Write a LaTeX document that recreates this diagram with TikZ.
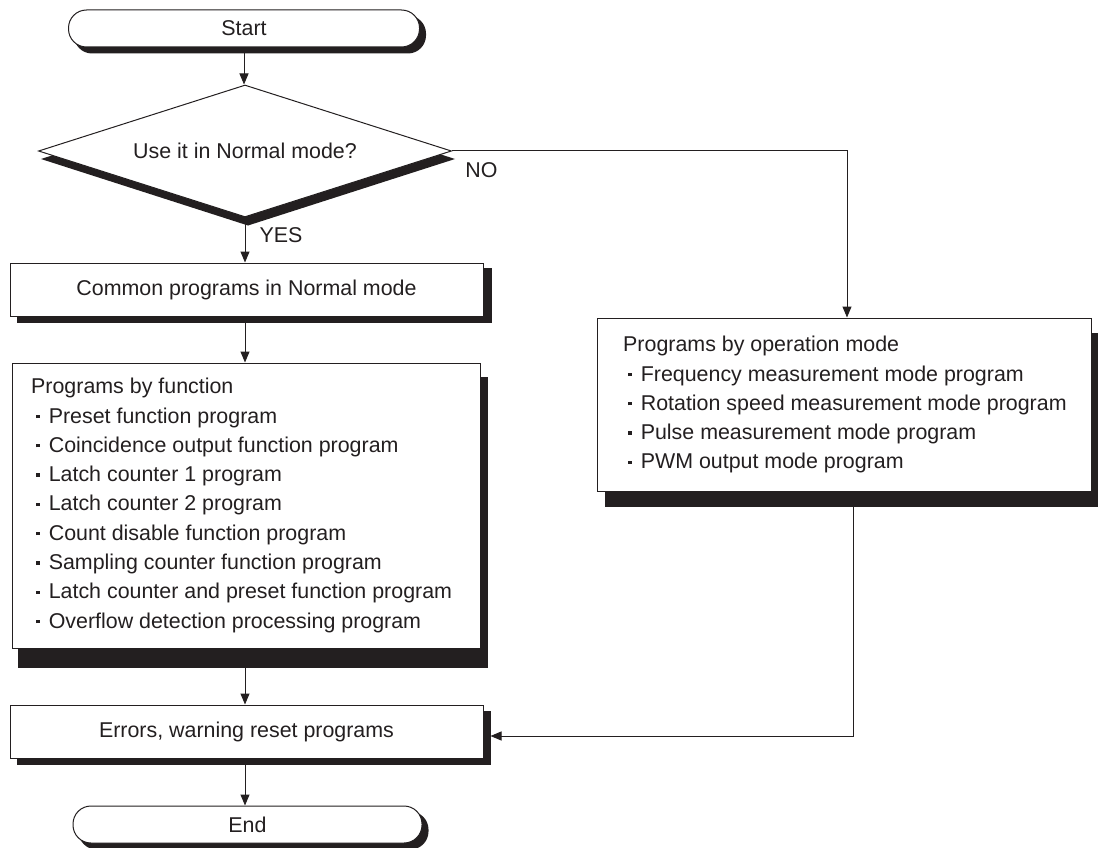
\documentclass[tikz,border=0pt]{standalone}
\usepackage{fontspec}
\setmainfont{Liberation Sans}
\usetikzlibrary{shapes.geometric,arrows.meta,backgrounds,calc}
\definecolor{ink}{RGB}{35,31,32}
\newcommand\sqbul{\hspace*{5pt}\rule[5pt]{3.3pt}{3.3pt}\hspace{9.3pt}}
\begin{document}
\begin{tikzpicture}[x=1pt,y=-1pt,
  every node/.style={font=\fontsize{21.4}{29.3}\selectfont, text=ink},
  box/.style={draw=ink, line width=1pt, fill=white, rectangle, inner sep=0pt},
  term/.style={box, rounded corners=18pt},
  link/.style={draw=ink, line width=1pt},
  arr/.style={link, -{Triangle[length=11pt,width=9pt]}},
  shade/.style={fill=ink}
]
\useasboundingbox (0,0) rectangle (1098,848);

\node[term, minimum width=351pt, minimum height=37pt] (start) at (244,28.5) {Start};
\node[diamond, draw=ink, line width=1pt, fill=white, inner sep=0pt, aspect=3.13,
      minimum width=413pt, minimum height=132pt] (dia) at (245,151) {Use it in Normal mode?};
\node[box, minimum width=473pt, minimum height=53pt] (common) at (246.5,289.5) {Common programs in Normal mode};
\node[box, minimum width=468pt, minimum height=285pt] (func) at (246,505.5) {};
\node[anchor=north west, align=left, inner sep=0pt] (functext) at ([shift={(19.5,15.5)}]func.north west)
  {Programs by function\\
   \sqbul Preset function program\\
   \sqbul Coincidence output function program\\
   \sqbul Latch counter 1 program\\
   \sqbul Latch counter 2 program\\
   \sqbul Count disable function program\\
   \sqbul Sampling counter function program\\
   \sqbul Latch counter and preset function program\\
   \sqbul Overflow detection processing program};
\node[box, minimum width=494pt, minimum height=173pt] (mode) at (844,404.5) {};
\node[anchor=north west, align=left, inner sep=0pt] (modetext) at ([shift={(26.5,18.5)}]mode.north west)
  {Programs by operation mode\\
   \sqbul Frequency measurement mode program\\
   \sqbul Rotation speed measurement mode program\\
   \sqbul Pulse measurement mode program\\
   \sqbul PWM output mode program};
\node[box, minimum width=473pt, minimum height=53pt] (err) at (246.5,731.5) {Errors, warning reset programs};
\node[term, minimum width=349pt, minimum height=37pt] (end) at (247.5,824.5) {End};

\node (yes) at (281,235) {YES};
\node (no) at (481.5,170) {NO};

\begin{pgfonlayer}{background}
  \draw[arr] (start.south) -- (start.south |- dia.north);
  \draw[arr] (dia.south) -- (dia.south |- common.north);
  \draw[arr] (common.south -| dia.south) -- (func.north -| dia.south);
  \draw[arr] (func.south -| dia.south) -- (err.north -| dia.south);
  \draw[arr] (err.south -| dia.south) -- (end.north -| dia.south);
  \draw[arr] (dia.east) -| ([shift={(3,0)}]mode.north);
  \draw[arr] ([shift={(9,0)}]mode.south) |- ([shift={(7,4.5)}]err.east);

  \fill[shade, rounded corners=18pt] ([shift={(6,6)}]start.north west) rectangle ([shift={(6,6)}]start.south east);
  \fill[shade] ([shift={(3,8)}]dia.north) -- ([shift={(3,8)}]dia.east) -- ([shift={(3,8)}]dia.south) -- ([shift={(3,8)}]dia.west) -- cycle;
  \fill[shade] ([shift={(7,5)}]common.north west) rectangle ([shift={(8,6)}]common.south east);
  \fill[shade] ([shift={(6,14)}]func.north west) rectangle ([shift={(7,19)}]func.south east);
  \fill[shade] ([shift={(8,15)}]mode.north west) rectangle ([shift={(7,15)}]mode.south east);
  \fill[shade] ([shift={(7,6)}]err.north west) rectangle ([shift={(7,6)}]err.south east);
  \fill[shade, rounded corners=18pt] ([shift={(6,6)}]end.north west) rectangle ([shift={(6,6)}]end.south east);
\end{pgfonlayer}
\end{tikzpicture}
\end{document}
